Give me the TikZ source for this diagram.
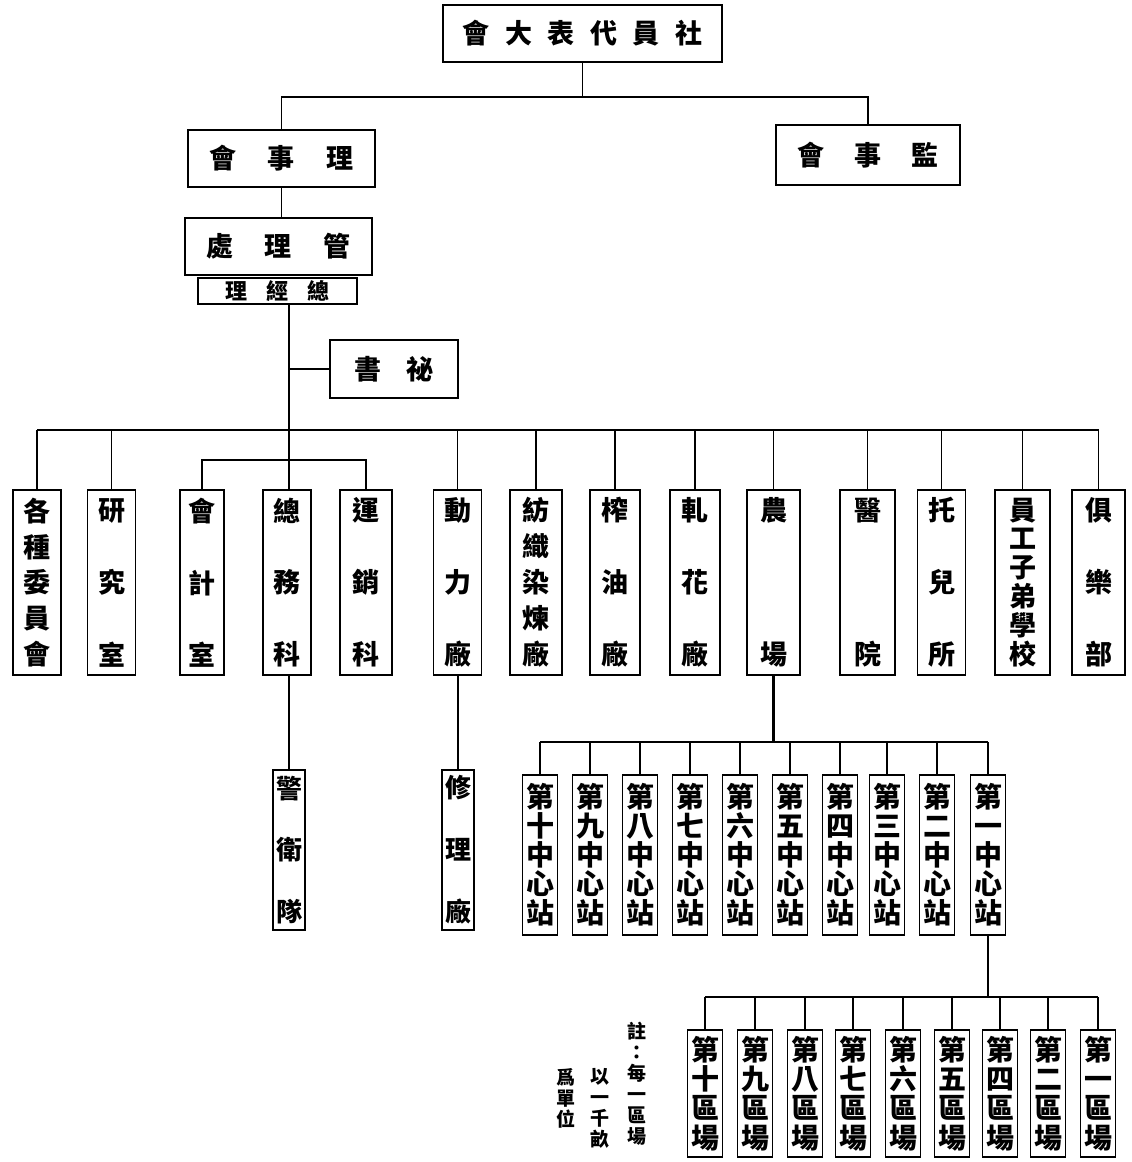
\documentclass[tikz,border=0pt]{standalone}
\usepackage{fontspec}
\setmainfont{Noto Sans CJK TC}
\newcommand{\vtxt}[2]{\parbox[c][#1][s]{1.05em}{\centering #2\par}}
\newcommand{\htxt}[2]{\makebox[#1][s]{#2}}
\begin{document}
\begin{tikzpicture}[x=0.5pt,y=-0.5pt,
  box/.style={draw=black, line width=0.7pt, inner sep=0pt, rectangle},
  hbox/.style={box, font=\bfseries\fontsize{13.5}{13.5}\selectfont},
  mainbox/.style={box, minimum width=24pt, minimum height=92.5pt, font=\bfseries\fontsize{13.5}{13.5}\selectfont},
  subbox/.style={box, minimum width=16pt, minimum height=80pt, font=\bfseries\fontsize{13}{13}\selectfont},
  stbox/.style={box, minimum width=17.5pt, minimum height=80pt, font=\bfseries\fontsize{14}{14}\selectfont},
  fdbox/.style={box, minimum width=17.5pt, minimum height=63.5pt, font=\bfseries\fontsize{14}{14}\selectfont},
  notest/.style={inner sep=0pt, align=center, font=\bfseries\fontsize{9.5}{10.5}\selectfont},
  conn/.style={line width=0.7pt},
  trunkline/.style={line width=1.3pt}]
\fill[white] (0,0) rectangle (1131,1162);
\useasboundingbox (0,0) rectangle (1131,1162);

% upper boxes
\node[hbox, minimum width=139.5pt, minimum height=28.5pt] (top) at (582.5,33.5) {\htxt{120pt}{會\hfill 大\hfill 表\hfill 代\hfill 員\hfill 社}};
\node[hbox, minimum width=93.5pt, minimum height=28.5pt] (lishi) at (281.5,158.5) {\htxt{72pt}{會\hfill 事\hfill 理}};
\node[hbox, minimum width=92pt, minimum height=30pt] (jianshi) at (868,155) {\htxt{70.5pt}{會\hfill 事\hfill 監}};
\node[hbox, minimum width=93.5pt, minimum height=28.5pt] (guanli) at (278.5,246.5) {\htxt{72.5pt}{處\hfill 理\hfill 管}};
\node[box, minimum width=79.5pt, minimum height=13pt, font=\bfseries\fontsize{11}{11}\selectfont] (zjl) at (277.5,291) {\htxt{52pt}{理\hfill 經\hfill 總}};
\node[hbox, minimum width=64pt, minimum height=29pt] (mishu) at (394,369) {\htxt{39.5pt}{書\hfill 祕}};

% main row
\node[mainbox] (gezhong) at (37,582.5) {\vtxt{83.5pt}{各\vfill 種\vfill 委\vfill 員\vfill 會}};
\node[mainbox] (yanjiu) at (111.5,582.5) {\vtxt{83.5pt}{研\vfill 究\vfill 室}};
\node[mainbox, minimum width=22pt] (kuaiji) at (202,582.5) {\vtxt{83.5pt}{會\vfill 計\vfill 室}};
\node[mainbox] (zongwu) at (287,582.5) {\vtxt{83.5pt}{總\vfill 務\vfill 科}};
\node[mainbox, minimum width=26pt] (yunxiao) at (366,582.5) {\vtxt{83.5pt}{運\vfill 銷\vfill 科}};
\node[mainbox] (dongli) at (457.5,582.5) {\vtxt{83.5pt}{動\vfill 力\vfill 廠}};
\node[mainbox, minimum width=26pt] (fangzhi) at (536,582.5) {\vtxt{83.5pt}{紡\vfill 織\vfill 染\vfill 煉\vfill 廠}};
\node[mainbox, minimum width=25pt] (zhayou) at (615,582.5) {\vtxt{83.5pt}{榨\vfill 油\vfill 廠}};
\node[mainbox, minimum width=25pt] (yahua) at (695,582.5) {\vtxt{83.5pt}{軋\vfill 花\vfill 廠}};
\node[mainbox, minimum width=26.5pt] (nongchang) at (773.5,582.5) {\vtxt{83.5pt}{農\vfill 場}};
\node[mainbox, minimum width=27.5pt] (yiyuan) at (867.5,582.5) {\vtxt{83.5pt}{醫\vfill 院}};
\node[mainbox] (tuoer) at (941.5,582.5) {\vtxt{83.5pt}{托\vfill 兒\vfill 所}};
\node[mainbox, minimum width=27.5pt] (yuangong) at (1022.5,582.5) {\vtxt{83.5pt}{員\vfill 工\vfill 子\vfill 弟\vfill 學\vfill 校}};
\node[mainbox, minimum width=26.5pt] (julebu) at (1098.5,582.5) {\vtxt{83.5pt}{俱\vfill 樂\vfill 部}};

% sub boxes
\node[subbox] (jingwei) at (289,850) {\vtxt{73pt}{警\vfill 衛\vfill 隊}};
\node[subbox] (xiuli) at (458,850) {\vtxt{73pt}{修\vfill 理\vfill 廠}};

% stations
\node[stbox] (s10) at (540,855) {\vtxt{70pt}{第\vfill 十\vfill 中\vfill 心\vfill 站}};
\node[stbox] (s9) at (590,855) {\vtxt{70pt}{第\vfill 九\vfill 中\vfill 心\vfill 站}};
\node[stbox] (s8) at (640,855) {\vtxt{70pt}{第\vfill 八\vfill 中\vfill 心\vfill 站}};
\node[stbox] (s7) at (690,855) {\vtxt{70pt}{第\vfill 七\vfill 中\vfill 心\vfill 站}};
\node[stbox] (s6) at (740,855) {\vtxt{70pt}{第\vfill 六\vfill 中\vfill 心\vfill 站}};
\node[stbox] (s5) at (790,855) {\vtxt{70pt}{第\vfill 五\vfill 中\vfill 心\vfill 站}};
\node[stbox] (s4) at (840,855) {\vtxt{70pt}{第\vfill 四\vfill 中\vfill 心\vfill 站}};
\node[stbox] (s3) at (887,855) {\vtxt{70pt}{第\vfill 三\vfill 中\vfill 心\vfill 站}};
\node[stbox] (s2) at (937,855) {\vtxt{70pt}{第\vfill 二\vfill 中\vfill 心\vfill 站}};
\node[stbox] (s1) at (988,855) {\vtxt{70pt}{第\vfill 一\vfill 中\vfill 心\vfill 站}};

% fields
\node[fdbox] (fa) at (705,1093.5) {\vtxt{56pt}{第\vfill 十\vfill 區\vfill 場}};
\node[fdbox] (fb) at (755,1093.5) {\vtxt{56pt}{第\vfill 九\vfill 區\vfill 場}};
\node[fdbox] (fc) at (805,1093.5) {\vtxt{56pt}{第\vfill 八\vfill 區\vfill 場}};
\node[fdbox] (fd) at (853,1093.5) {\vtxt{56pt}{第\vfill 七\vfill 區\vfill 場}};
\node[fdbox] (fe) at (903,1093.5) {\vtxt{56pt}{第\vfill 六\vfill 區\vfill 場}};
\node[fdbox] (ff) at (952,1093.5) {\vtxt{56pt}{第\vfill 五\vfill 區\vfill 場}};
\node[fdbox] (fg) at (1000,1093.5) {\vtxt{56pt}{第\vfill 四\vfill 區\vfill 場}};
\node[fdbox] (fh) at (1048,1093.5) {\vtxt{56pt}{第\vfill 二\vfill 區\vfill 場}};
\node[fdbox] (fi) at (1098,1093.5) {\vtxt{56pt}{第\vfill 一\vfill 區\vfill 場}};

% note
\node[notest, anchor=north] (note1) at (637,1022) {註\\：\\每\\一\\區\\場};
\node[notest, anchor=north] (note2) at (600,1068) {以\\一\\千\\畝};
\node[notest, anchor=north] (note3) at (566,1068) {爲\\單\\位};

% connectors
\coordinate (bus0) at (582,97);
\draw[conn] (top.south) -- (top.south |- bus0);
\draw[conn] (lishi.north) -- (lishi.north |- bus0) -- (jianshi.north |- bus0) -- (jianshi.north);
\draw[conn] (lishi.south) -- (lishi.south |- guanli.north);

\coordinate (trunk) at (289,430);
\draw[trunkline] (zjl.south -| trunk) -- (trunk);
\draw[conn] (mishu.west) -- (mishu.west -| trunk);
\draw[trunkline] (gezhong.north |- trunk) -- (julebu.north |- trunk);
\foreach \n in {gezhong,yanjiu,dongli,fangzhi,zhayou,yahua,nongchang,yiyuan,tuoer,yuangong,julebu}
  \draw[conn] (\n.north |- trunk) -- (\n.north);
\draw[trunkline] (trunk) -- (zongwu.north -| trunk);
\coordinate (sub1) at (289,460);
\draw[conn] (kuaiji.north) -- (kuaiji.north |- sub1) -- (yunxiao.north |- sub1) -- (yunxiao.north);

\draw[conn] (jingwei.north) -- (jingwei.north |- zongwu.south);
\draw[conn] (xiuli.north) -- (xiuli.north |- dongli.south);

\coordinate (sub2) at (778,742);
\draw[trunkline] (nongchang.south) -- (nongchang.south |- sub2);
\draw[conn] (s10.north |- sub2) -- (s1.north |- sub2);
\foreach \n in {s10,s9,s8,s7,s6,s5,s4,s3,s2,s1}
  \draw[conn] (\n.north |- sub2) -- (\n.north);

\coordinate (sub3) at (988,997);
\draw[trunkline] (s1.south) -- (s1.south |- sub3);
\draw[conn] (fa.north |- sub3) -- (fi.north |- sub3);
\foreach \n in {fa,fb,fc,fd,fe,ff,fg,fh,fi}
  \draw[conn] (\n.north |- sub3) -- (\n.north);
\end{tikzpicture}
\end{document}
